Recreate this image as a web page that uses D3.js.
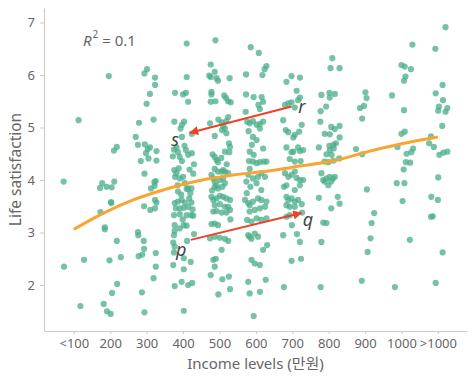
<!DOCTYPE html>
<html>
<head>
<meta charset="utf-8">
<script src="https://cdn.jsdelivr.net/npm/d3@7"></script>
<style>
  html, body { margin: 0; padding: 0; background: #fff; }
  svg { display: block; font-family: "Noto Sans", "Noto Sans CJK KR", sans-serif; }
</style>
</head>
<body>
<svg id="chart" width="475" height="380"></svg>
<script>
// ---- data ----
const tickIncomes = [100, 200, 300, 400, 500, 600, 700, 800, 900, 1000, 1100];
const tickLabels = ["<100", "200", "300", "400", "500", "600", "700", "800", "900", "1000", ">1000"];
const yTicks = [2, 3, 4, 5, 6, 7];

// [income, life satisfaction]
const points = [
  // <100
  [72,3.97],[113,5.14],[73,2.35],[128,2.48],[118,1.60],
  // 200
  [196,5.98],[218,4.63],[210,4.56],[178,3.94],[172,3.85],[190,3.87],[204,3.86],[211,3.97],[202,3.58],[203,3.56],
  [173,3.39],[185,3.10],[185,3.06],[218,2.84],[198,2.47],[229,2.53],[219,2.02],[205,1.85],[182,1.64],[191,1.50],[201,1.45],
  // 300
  [301,6.11],[294,6.03],[323,5.95],[323,5.81],[309,5.64],[300,5.45],[279,5.09],[319,5.15],[270,4.82],[276,4.67],
  [295,4.68],[303,4.59],[298,4.51],[309,4.62],[327,4.55],[284,4.36],[305,4.41],[327,4.37],[294,4.12],[321,3.96],
  [325,3.98],[312,3.84],[322,3.89],[323,3.62],[327,3.57],[293,3.50],[310,3.43],[323,3.46],[276,3.01],[277,2.95],
  [292,2.84],[293,2.69],[278,2.55],[288,2.58],[325,2.61],[325,2.35],[319,2.13],[287,1.86],[294,1.48],
  // 400
  [410,6.60],[410,5.96],[378,5.66],[400,5.63],[408,5.66],[414,5.49],[376,5.11],[403,5.11],[397,5.05],[393,4.98],
  [397,4.82],[424,4.88],[375,4.58],[382,4.62],[386,4.53],[391,4.44],[397,4.36],[408,4.57],[414,4.48],[424,4.51],
  [404,4.65],[376,4.19],[382,4.13],[378,4.06],[391,4.03],[400,4.06],[405,3.94],[414,3.84],[423,3.84],[410,3.83],
  [377,3.56],[386,3.59],[396,3.62],[405,3.57],[417,3.65],[423,3.57],[380,3.46],[391,3.46],[402,3.47],[414,3.49],
  [375,3.33],[391,3.35],[410,3.33],[423,3.33],[428,3.32],[377,3.14],[391,3.08],[402,3.14],[410,3.13],[377,3.03],
  [375,2.95],[411,2.84],[430,2.97],[373,2.81],[377,2.73],[375,2.62],[402,2.51],[402,2.30],[421,2.44],[373,2.38],
  [377,1.98],[396,2.06],[414,2.00],[425,2.04],[402,1.51],[395,3.72],[420,3.75],[385,3.90],[428,4.12],[372,4.45],[430,4.30],
  [388,4.22],[418,4.20],[386,3.78],[399,3.25],[426,3.44],
  // 500
  [489,6.66],[476,6.20],[472,5.99],[476,5.96],[487,6.06],[492,5.94],[496,5.89],[528,5.94],[478,5.68],[478,5.63],
  [476,5.49],[489,5.50],[513,5.61],[518,5.56],[524,5.50],[531,5.48],[474,5.08],[497,5.15],[506,5.10],[510,5.03],
  [515,4.98],[519,5.12],[524,5.20],[507,4.95],[519,4.89],[487,4.84],[481,4.49],[487,4.44],[492,4.38],[496,4.34],
  [515,4.54],[527,4.53],[529,4.63],[526,4.70],[487,4.21],[510,4.19],[478,4.10],[483,4.03],[487,3.97],[492,3.90],
  [496,4.16],[506,4.16],[515,4.16],[524,4.13],[487,3.87],[501,4.00],[510,4.03],[515,3.94],[508,3.87],[496,3.84],
  [478,3.68],[483,3.62],[492,3.65],[501,3.70],[510,3.68],[519,3.65],[529,3.62],[487,3.52],[501,3.54],[515,3.49],
  [524,3.49],[483,3.40],[492,3.41],[506,3.38],[519,3.38],[529,3.43],[478,3.16],[487,3.17],[496,3.14],[474,2.89],
  [487,2.92],[501,2.90],[515,2.88],[524,2.84],[506,2.67],[483,2.48],[490,2.50],[487,2.35],[476,2.19],[508,2.11],
  [526,2.16],[497,1.82],[529,1.92],[505,4.42],[520,4.30],[480,3.80],[530,3.25],
  // 600
  [586,6.53],[608,6.42],[573,6.01],[618,6.00],[629,6.17],[624,6.11],[573,5.63],[594,5.58],[616,5.58],[607,5.43],
  [611,5.35],[620,5.49],[572,5.30],[576,5.11],[583,5.08],[592,5.12],[602,5.05],[611,5.07],[620,5.11],[580,4.93],
  [592,4.82],[602,4.76],[611,4.98],[589,4.67],[583,4.54],[594,4.48],[592,4.35],[602,4.32],[611,4.34],[622,4.35],
  [629,4.35],[581,4.36],[583,4.21],[579,4.10],[592,4.03],[606,4.06],[615,4.13],[625,4.06],[574,3.97],[585,3.87],
  [602,3.94],[615,3.81],[570,3.62],[579,3.56],[583,3.52],[592,3.59],[606,3.65],[615,3.62],[629,3.59],[611,3.46],
  [597,3.43],[583,3.40],[625,3.49],[576,3.24],[588,3.21],[602,3.27],[615,3.24],[629,3.27],[579,2.95],[583,2.92],
  [597,2.98],[606,2.92],[588,2.88],[620,2.67],[631,2.76],[588,2.48],[597,2.41],[611,2.38],[627,2.10],[579,2.06],
  [583,1.84],[611,1.87],[594,1.41],[620,4.60],[575,3.75],
  // 700
  [684,5.87],[698,5.98],[721,5.95],[712,5.70],[716,5.52],[721,5.57],[680,5.43],[689,5.46],[698,5.48],[707,5.38],
  [675,5.14],[726,5.05],[682,4.95],[689,4.91],[707,4.86],[703,4.81],[719,4.92],[684,4.62],[703,4.54],[698,4.53],
  [716,4.62],[721,4.55],[730,4.57],[693,4.40],[707,4.35],[723,4.36],[680,4.13],[689,4.06],[698,4.10],[707,4.16],
  [712,4.04],[721,4.00],[730,4.00],[677,3.87],[684,3.90],[707,3.81],[721,3.90],[684,3.68],[689,3.62],[698,3.65],
  [707,3.59],[716,3.62],[726,3.54],[684,3.52],[693,3.49],[707,3.49],[727,3.38],[684,3.30],[693,3.33],[699,3.14],
  [675,2.95],[713,2.97],[721,2.82],[698,2.46],[724,2.50],[677,1.96],
  // 800
  [810,6.32],[805,6.13],[830,6.13],[780,5.62],[802,5.66],[817,5.64],[803,5.57],[793,5.40],[778,5.31],[777,5.11],
  [807,5.01],[830,5.03],[817,4.97],[789,4.88],[803,4.87],[830,4.81],[773,4.62],[802,4.65],[813,4.67],[820,4.70],
  [803,4.57],[814,4.60],[794,4.49],[808,4.48],[799,4.34],[813,4.37],[829,4.41],[789,4.35],[780,4.13],[785,4.00],
  [794,4.03],[803,4.06],[807,3.97],[812,4.03],[817,4.06],[799,3.90],[789,3.97],[773,3.66],[807,3.46],[825,3.68],
  [830,3.55],[785,3.19],[794,3.18],[780,2.82],[778,1.96],
  // 900
  [901,5.67],[904,5.56],[897,5.41],[886,5.37],[892,5.17],[875,4.59],[892,4.49],[905,3.82],[925,3.37],[918,3.18],
  [915,2.89],[907,2.63],[891,2.08],
  // 1000
  [1000,6.19],[1009,6.16],[1026,6.11],[1011,5.97],[1007,5.89],[1030,6.58],[974,5.61],[1007,5.33],[1000,4.88],[1009,4.92],
  [989,4.63],[1032,4.60],[1027,4.53],[1014,4.50],[1012,4.34],[1024,4.33],[1006,4.20],[987,3.94],[1008,3.94],[1003,3.60],
  [1023,2.86],[982,1.96],
  // >1000
  [1121,6.91],[1093,6.50],[1113,5.81],[1094,5.65],[1114,5.52],[1103,5.40],[1101,5.32],[1121,5.30],[1126,5.37],[1112,5.03],
  [1081,4.83],[1076,4.70],[1089,4.63],[1104,4.48],[1115,4.52],[1126,4.54],[1101,4.05],[1082,3.68],[1100,3.62],[1081,3.30],
  [1086,3.31],[1113,2.62],[1094,2.04]
];

// fitted curve
const fitCurve = [
  [100,3.06],[171,3.33],[263,3.62],[336,3.79],[446,3.99],[542,4.10],[634,4.17],
  [725,4.27],[817,4.37],[908,4.54],[1000,4.69],[1100,4.82]
];

// arrows: from -> to
const arrows = [
  { from: [421, 2.86], to: [725, 3.37] },
  { from: [698, 5.40], to: [419, 4.90] }
];
const arrowLabels = [
  { text: "p", at: [395, 2.543] },
  { text: "q", at: [743, 3.124] },
  { text: "r", at: [726, 5.276] },
  { text: "s", at: [378, 4.657] }
];
const r2Note = { at: [125, 6.558], value: "0.1" };

const xTitle = "Income levels (만원)";
const yTitle = "Life satisfaction";

// ---- drawing ----
const svg = d3.select("#chart");
const x = d3.scaleLinear().domain([18, 1180]).range([44, 467]);
const y = d3.scaleLinear().domain([1.124, 7.276]).range([331, 8]);

const axisColor = "#cccccc";
const textColor = "#666666";

const xAxis = d3.axisBottom(x)
  .tickValues(tickIncomes)
  .tickFormat((d, i) => tickLabels[i])
  .tickSizeInner(3).tickSizeOuter(0).tickPadding(5);
const yAxis = d3.axisLeft(y)
  .tickValues(yTicks)
  .tickFormat(d3.format("d"))
  .tickSizeInner(4).tickSizeOuter(0).tickPadding(5);

const gx = svg.append("g").attr("transform", `translate(0,${y.range()[0]})`).call(xAxis);
const gy = svg.append("g").attr("transform", `translate(${x.range()[0]},0)`).call(yAxis);
[gx, gy].forEach(g => {
  g.select(".domain").attr("stroke", axisColor).attr("stroke-width", 1.2);
  g.selectAll(".tick line").attr("stroke", axisColor);
  g.selectAll(".tick text").attr("fill", textColor)
    .style("font-size", "13px").style("font-family", '"Noto Sans", sans-serif');
});

// points
svg.append("g").selectAll("circle").data(points).join("circle")
  .attr("cx", d => x(d[0]))
  .attr("cy", d => y(d[1]))
  .attr("r", 3.1)
  .attr("fill", "#4aae88")
  .attr("fill-opacity", 0.75);

// fitted curve
svg.append("path")
  .datum(fitCurve)
  .attr("fill", "none")
  .attr("stroke", "#f8a532")
  .attr("stroke-width", 3)
  .attr("d", d3.line().x(d => x(d[0])).y(d => y(d[1])).curve(d3.curveMonotoneX));

// arrows
const defs = svg.append("defs");
defs.append("marker")
  .attr("id", "arrowhead")
  .attr("viewBox", "0 0 10 10")
  .attr("refX", 9).attr("refY", 5)
  .attr("markerWidth", 11).attr("markerHeight", 9)
  .attr("markerUnits", "userSpaceOnUse")
  .attr("orient", "auto")
  .append("path").attr("d", "M0,0 L10,5 L0,10 Z").attr("fill", "#f0402a");

svg.append("g").selectAll("line").data(arrows).join("line")
  .attr("x1", d => x(d.from[0])).attr("y1", d => y(d.from[1]))
  .attr("x2", d => x(d.to[0])).attr("y2", d => y(d.to[1]))
  .attr("stroke", "#f0402a").attr("stroke-width", 2)
  .attr("marker-end", "url(#arrowhead)");

svg.append("g").selectAll("text").data(arrowLabels).join("text")
  .attr("x", d => x(d.at[0])).attr("y", d => y(d.at[1]))
  .attr("text-anchor", "middle")
  .attr("fill", "#444")
  .style("font-size", "18px").style("font-style", "italic")
  .text(d => d.text);

// R^2 note
const r2 = svg.append("text")
  .attr("x", x(r2Note.at[0])).attr("y", y(r2Note.at[1]))
  .attr("fill", textColor).style("font-size", "15px");
r2.append("tspan").style("font-style", "italic").text("R");
r2.append("tspan").attr("dy", -8).attr("dx", 1).style("font-size", "10px").text("2");
r2.append("tspan").attr("dy", 8).text(" = " + r2Note.value);

// axis titles
svg.append("text")
  .attr("x", (x.range()[0] + x.range()[1]) / 2).attr("y", 369)
  .attr("text-anchor", "middle").attr("fill", textColor)
  .style("font-size", "15px").text(xTitle);
svg.append("text")
  .attr("transform", `translate(21,${(y.range()[0] + y.range()[1]) / 2})rotate(-90)`)
  .attr("text-anchor", "middle").attr("fill", textColor)
  .style("font-size", "15.5px").text(yTitle);
</script>
</body>
</html>
